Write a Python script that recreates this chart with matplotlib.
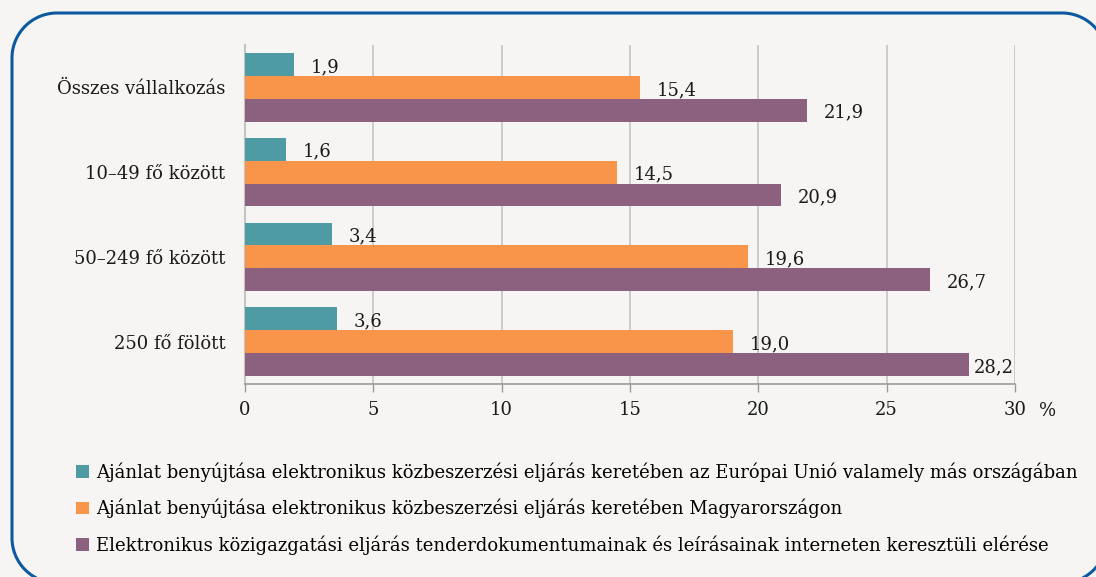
import matplotlib

matplotlib.use("Agg")

import matplotlib.pyplot as plt
import numpy as np
from matplotlib.patches import Patch, Polygon

categories = ["Összes vállalkozás", "10–49 fő között", "50–249 fő között", "250 fő fölött"]
series_names = [
    "Ajánlat benyújtása elektronikus közbeszerzési eljárás keretében az Európai Unió valamely más országában",
    "Ajánlat benyújtása elektronikus közbeszerzési eljárás keretében Magyarországon",
    "Elektronikus közigazgatási eljárás tenderdokumentumainak és leírásainak interneten keresztüli elérése",
]
eu_other = [1.9, 1.6, 3.4, 3.6]
hungary = [15.4, 14.5, 19.6, 19.0]
tender_docs = [21.9, 20.9, 26.7, 28.2]
xticks = [0, 5, 10, 15, 20, 25, 30]

colors = ["#4f9ba3", "#f8954a", "#8b617f"]
bg = "#f6f5f3"
text_color = "#1a1a1a"
frame_color = "#0b5aa0"
fs = 13

plt.rcParams["font.family"] = ["DejaVu Serif", "Liberation Serif"]
plt.rcParams["font.size"] = fs

W, H = 1096, 577
fig = plt.figure(figsize=(W / 100, H / 100), dpi=100, facecolor=bg)

# rounded frame in pixel units (y down); right and bottom edges sit just off the canvas
frame_ax = fig.add_axes([0, 0, 1, 1], zorder=-1)
frame_ax.set_xlim(0, W)
frame_ax.set_ylim(H, 0)
frame_ax.axis("off")


def arc(cx, cy, r, a0, a1):
    t = np.radians(np.linspace(a0, a1, 40))
    return np.column_stack([cx + r * np.cos(t), cy - r * np.sin(t)])


r = 45
left, top, right, bottom = 12, 13, 1107, 583
outline = np.vstack([
    arc(left + r, top + r, r, 180, 90),
    arc(right - r, top + r, r, 90, 0),
    arc(right - r, bottom - r, r, 0, -90),
    arc(left + r, bottom - r, r, 270, 180),
])
frame_ax.add_patch(Polygon(outline, closed=True, facecolor="none",
                           edgecolor=frame_color, linewidth=2.2,
                           joinstyle="round", clip_on=False))

ax = fig.add_axes([245 / W, 1 - 384 / H, 770 / W, 339 / H])
ax.set_facecolor(bg)

h = 0.27
values = [eu_other, hungary, tender_docs]
for i, cat in enumerate(categories):
    for j, vals in enumerate(values):
        y = i + (j - 1) * h
        v = vals[i]
        ax.barh(y, v, height=h, color=colors[j], zorder=3)
        label = f"{v:.1f}".replace(".", ",")
        if v + 2.3 > 30:
            # keep labels of the longest bars inside the plot area
            ax.text(29.95, y + 0.03, label, va="center", ha="right",
                    fontsize=fs, color=text_color, zorder=4)
        else:
            ax.text(v + 0.65, y + 0.03, label, va="center", ha="left",
                    fontsize=fs, color=text_color, zorder=4)

ax.set_ylim(3.5, -0.5)
ax.set_xlim(0, 30)
ax.set_yticks(range(len(categories)))
ax.set_yticklabels(categories, fontsize=fs, color=text_color)
ax.set_xticks(xticks)
ax.set_xticklabels([str(t) for t in xticks], fontsize=fs, color=text_color)
ax.tick_params(axis="y", length=0, pad=14)
ax.tick_params(axis="x", length=6, width=1, color="#9a9a9a", pad=6)
ax.grid(axis="x", color="#c4c4c4", linewidth=1.2, zorder=0)
for side in ["top", "right"]:
    ax.spines[side].set_visible(False)
ax.spines["left"].set_color("#c4c4c4")
ax.spines["left"].set_linewidth(1.5)
ax.spines["bottom"].set_color("#9a9a9a")
ax.spines["bottom"].set_linewidth(1.2)

fig.text(1048 / W, 1 - 411 / H, "%", ha="center", va="center", fontsize=fs, color=text_color)

handles = [Patch(facecolor=c, edgecolor="none") for c in colors]
fig.legend(handles, series_names, loc="upper left", bbox_to_anchor=(60 / W, 1 - 446 / H),
           frameon=False, fontsize=fs, handlelength=0.7, handleheight=0.7,
           handletextpad=0.4, labelspacing=0.95)

fig.savefig("out.png", dpi=100, facecolor=bg)
